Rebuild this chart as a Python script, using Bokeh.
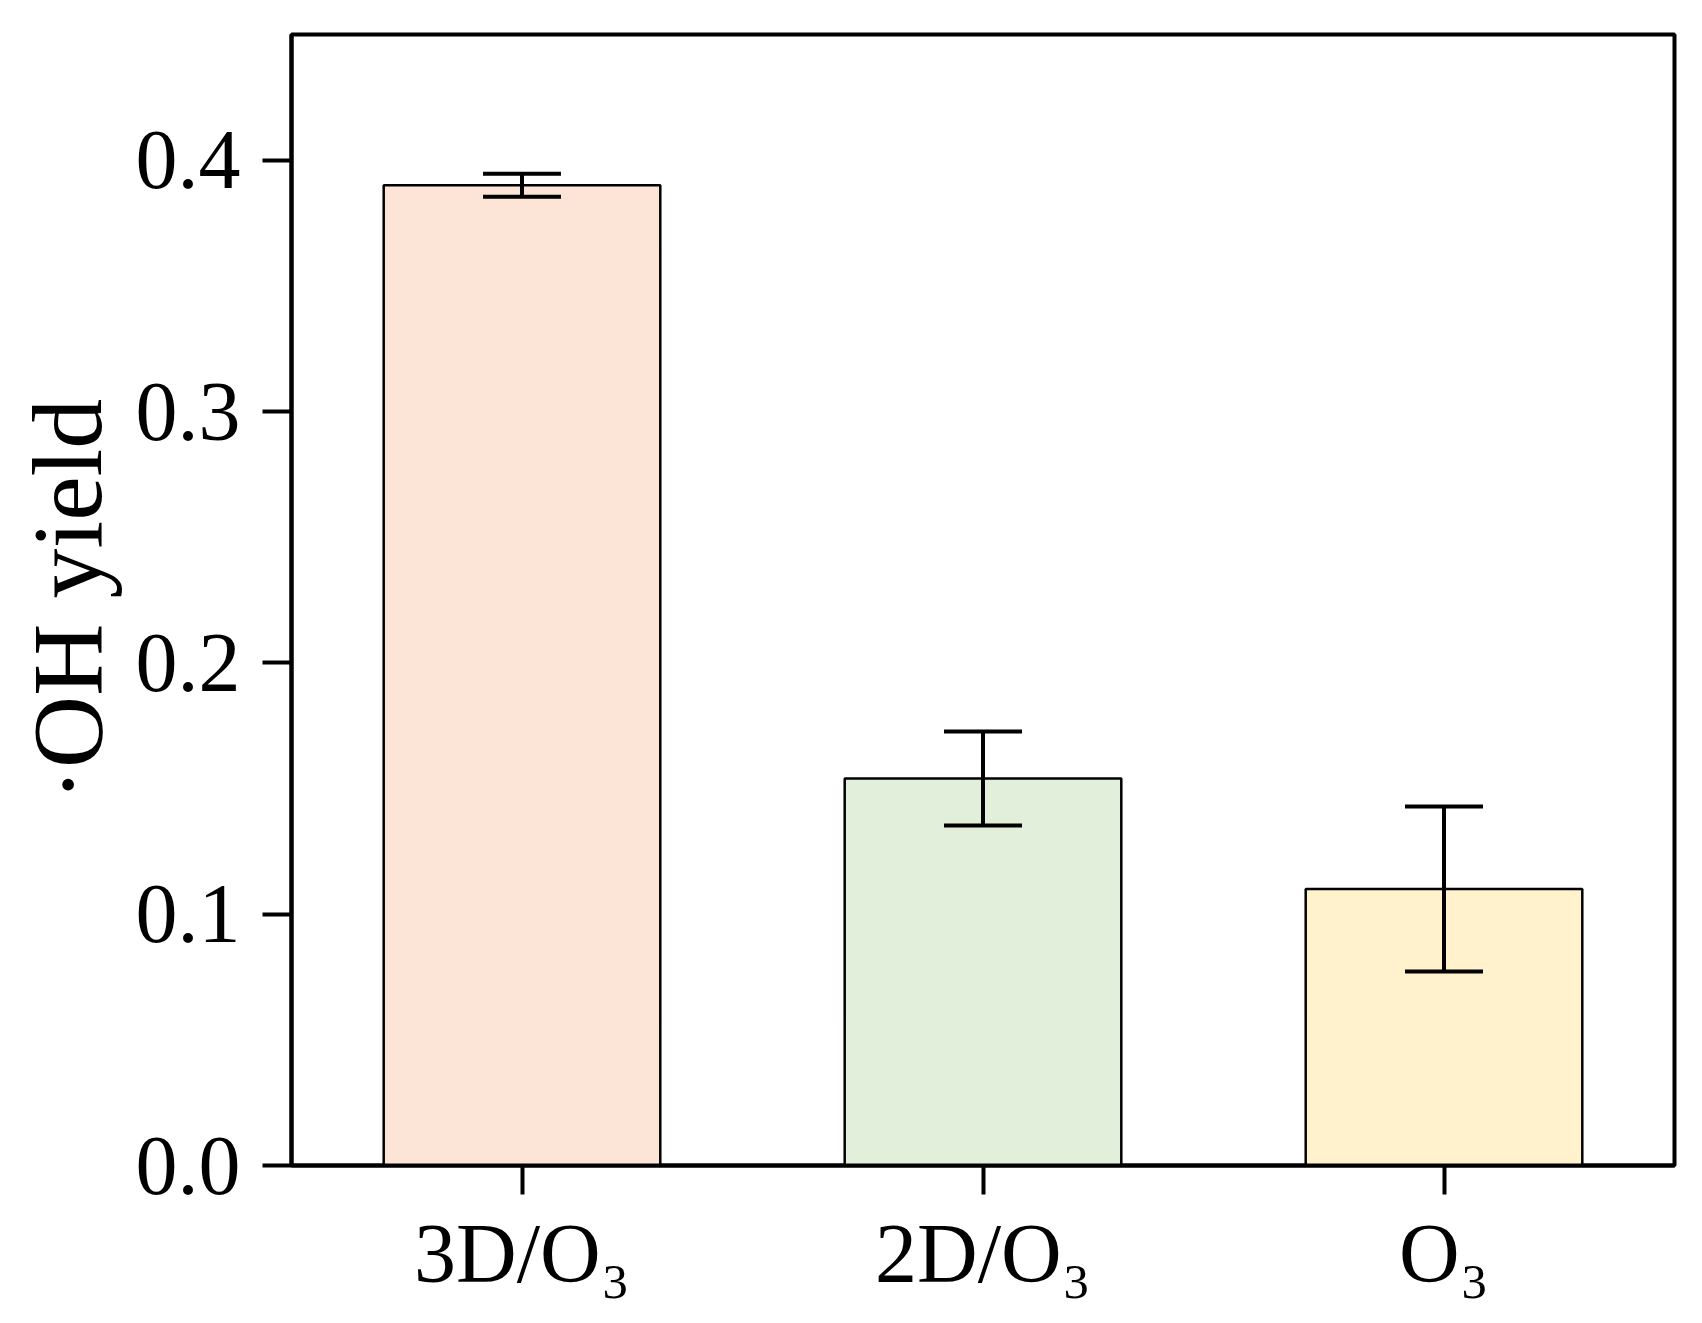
from bokeh.plotting import figure
from bokeh.models import ColumnDataSource, FixedTicker, Whisker, TeeHead, FactorRange, Range1d, CustomJSTickFormatter
from bokeh.embed import file_html
from bokeh.resources import INLINE

categories = ["3D/O₃", "2D/O₃", "O₃"]
yields = [0.390, 0.154, 0.110]
errors = [0.0046, 0.0187, 0.0328]
colors = ["#FCE4D6", "#E2EFDA", "#FFF2CC"]
y_ticks = [0.0, 0.1, 0.2, 0.3, 0.4]

FONT = "Liberation Serif"

src = ColumnDataSource(dict(
    cat=categories, val=yields,
    upper=[v + e for v, e in zip(yields, errors)],
    lower=[v - e for v, e in zip(yields, errors)],
    color=colors,
))

p = figure(
    x_range=FactorRange(*categories, range_padding=0),
    y_range=Range1d(0, 0.45),
    width=1686, height=1307,
    output_backend="svg", toolbar_location=None,
    min_border_left=291, min_border_right=12, min_border_top=34, min_border_bottom=142,
)

p.vbar(x="cat", top="val", width=0.6, source=src, fill_color="color",
       line_color="black", line_width=2.5)

w = Whisker(base="cat", upper="upper", lower="lower", source=src,
            line_color="black", line_width=4, level="overlay",
            upper_head=TeeHead(size=78, line_color="black", line_width=4),
            lower_head=TeeHead(size=78, line_color="black", line_width=4))
p.add_layout(w)

p.xgrid.visible = False
p.ygrid.visible = False
p.outline_line_color = "black"
p.outline_line_width = 4
p.outline_line_alpha = 1

p.yaxis.ticker = FixedTicker(ticks=y_ticks)
p.yaxis.formatter = CustomJSTickFormatter(code="return tick.toFixed(1);")
p.yaxis.axis_label = "·OH yield"

for ax in (p.xaxis[0], p.yaxis[0]):
    ax.axis_line_color = "black"
    ax.axis_line_width = 4
    ax.major_tick_line_color = "black"
    ax.major_tick_line_width = 4
    ax.major_tick_out = 29
    ax.major_tick_in = 0
    ax.minor_tick_line_color = None
    ax.major_label_text_font = FONT
    ax.major_label_text_font_size = "84px"
    ax.major_label_text_color = "black"

p.xaxis.major_label_standoff = 12
p.yaxis.major_label_standoff = 22
p.yaxis.axis_label_text_font = FONT
p.yaxis.axis_label_text_font_size = "100px"
p.yaxis.axis_label_text_font_style = "normal"
p.yaxis.axis_label_text_color = "black"
p.yaxis.axis_label_standoff = 10

open("out.html", "w").write(file_html(p, INLINE))
